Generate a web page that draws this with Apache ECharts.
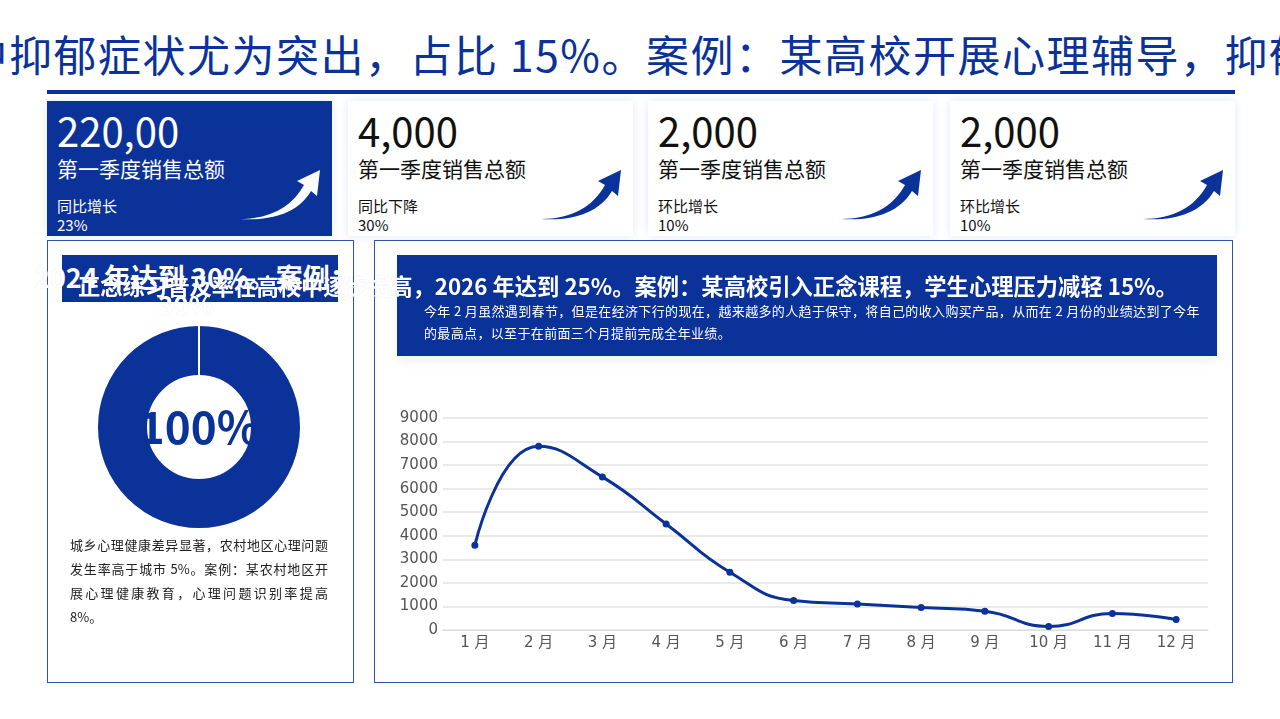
<!DOCTYPE html>
<html>
<head>
<meta charset="utf-8">
<script src="https://cdn.jsdelivr.net/npm/echarts@6/dist/echarts.min.js"></script>
<style>
	html,body{margin:0;padding:0;width:1280px;height:719px;overflow:hidden;background:#fff;font-family:"Noto Sans CJK SC","Noto Sans",sans-serif;}
	.abs{position:absolute;}
	.headline{left:-80px;top:26px;font-size:43px;line-height:54px;letter-spacing:1.5px;color:#0a3299;white-space:nowrap;}
	.bar{left:47px;top:90px;width:1188px;height:4px;background:#0a3299;}
	.card{top:101px;width:285px;height:135px;background:#fff;box-shadow:0 0 8px rgba(40,90,200,0.14);color:#111;}
	.card.curr{background:#0a3299;color:#fff;}
	.card .num{position:absolute;left:10px;top:5px;font-size:40px;line-height:48px;}
	.card .name{position:absolute;left:10px;top:52px;font-size:21px;line-height:30px;}
	.card .sub{position:absolute;left:10px;top:95px;font-size:15px;line-height:19px;}
	.card svg{position:absolute;left:193px;top:67px;}
	.panel{top:240px;height:441px;border:1.5px solid #2f52aa;background:#fff;}
	.box{background:#0a3299;}
	.wtxt{color:#fff;font-weight:bold;white-space:nowrap;text-shadow:0 0 1px rgba(0,0,0,0.15);}
	.para{left:70px;top:533px;width:258px;font-size:13px;line-height:24px;color:#222;}
	.para div{text-align:justify;text-align-last:justify;white-space:nowrap;}
	.para div.last{text-align-last:left;}
	.note{left:424px;top:300px;font-size:13px;line-height:22px;color:#fff;white-space:nowrap;letter-spacing:0.35px;}
</style>
</head>
<body>
<div class="abs headline">其中抑郁症状尤为突出，占比 15%。案例：某高校开展心理辅导，抑郁</div>
<div class="abs bar"></div>
<div id="cards"></div>

<div class="abs panel" style="left:47px;width:305px;"></div>
<div class="abs panel" style="left:374px;width:857px;"></div>
<div class="abs box" style="left:62px;top:255px;width:276px;height:47px;"></div>
<div class="abs box" style="left:397px;top:255px;width:820px;height:101px;box-shadow:0 6px 10px rgba(0,0,0,0.06);"></div>

<div id="pieChart" class="abs" style="left:48px;top:305px;width:303px;height:240px;"></div>
<div id="lineChart" class="abs" style="left:376px;top:370px;width:854px;height:310px;"></div>

<div class="abs wtxt" style="left:34px;top:261px;font-size:27px;line-height:32px;">2024 年达到 30%。案例：</div>
<div class="abs wtxt" style="left:158px;top:288px;font-size:26px;line-height:32px;">30%</div>
<div class="abs wtxt" style="left:78px;top:270px;font-size:22.3px;line-height:30px;">正念练习普及率在高校中逐步提高，2026 年达到 25%。案例：某高校引入正念课程，学生心理压力减轻 15%。</div>
<div class="abs note">今年 2 月虽然遇到春节，但是在经济下行的现在，越来越多的人趋于保守，将自己的收入购买产品，从而在 2 月份的业绩达到了今年<br>的最高点，以至于在前面三个月提前完成全年业绩。</div>
<div class="abs para" id="para"></div>

<script>
// 卡片数据
var cardNums=["220,00","4,000","2,000","2,000"];
var cardNames=["第一季度销售总额","第一季度销售总额","第一季度销售总额","第一季度销售总额"];
var cardTypes=["同比增长","同比下降","环比增长","环比增长"];
var cardRates=["23%","30%","10%","10%"];
var cardLefts=[47,348,648,950];
// 左侧说明文字(按行)
var paraLines=["城乡心理健康差异显著，农村地区心理问题","发生率高于城市 5%。案例：某农村地区开","展心理健康教育，心理问题识别率提高","8%。"];
// 环形图数据
var ringData=[100,0];
var ringLabel="100%";
// 折线图数据
var months=["1 月","2 月","3 月","4 月","5 月","6 月","7 月","8 月","9 月","10 月","11 月","12 月"];
var sales=[3600,7800,6500,4500,2450,1250,1100,950,800,150,700,450];

$=function(id){return document.getElementById(id);};
var html="";
for(var i=0;i<cardNums.length;i++){
	var color=i==0?"#fff":"#0a3299";
	html+='<div class="abs card'+(i==0?' curr':'')+'" style="left:'+cardLefts[i]+'px;">'
		+'<div class="num">'+cardNums[i]+'</div>'
		+'<div class="name">'+cardNames[i]+'</div>'
		+'<div class="sub">'+cardTypes[i]+'<br>'+cardRates[i]+'</div>'
		+'<svg width="82" height="54" viewBox="0 0 82 54"><path fill="'+color+'" d="M0,51 C30,51 52,39 64,17 L57,13 L80,2 L77,28 L71,23 C58,45 32,53 0,51 Z"/></svg>'
		+'</div>';
}
$("cards").innerHTML=html;
var ph="";
for(var j=0;j<paraLines.length;j++){
	ph+='<div'+(j==paraLines.length-1?' class="last"':'')+'>'+paraLines[j]+'</div>';
}
$("para").innerHTML=ph;

//环形图
var pie=echarts.init($("pieChart"));
pie.setOption({
	series:[{
		type:"pie",
		center:[151,122],
		radius:[51,102],
		startAngle:90,
		silent:true,
		itemStyle:{color:"#0a3299",borderColor:"#fff",borderWidth:2},
		label:{show:true,position:"center",formatter:ringLabel,color:"#0a3299",fontSize:44,fontWeight:"bold",fontFamily:"Noto Sans CJK SC"},
		labelLine:{show:false},
		data:ringData.map(function(v,i){
			return {value:v,label:{show:i==0}};
		})
	}]
});

//折线图
var line=echarts.init($("lineChart"));
line.setOption({
	grid:{left:67,right:22,top:48,bottom:50},
	xAxis:{
		type:"category",
		data:months,
		axisLine:{lineStyle:{color:"#ddd"}},
		axisTick:{show:false},
		axisLabel:{color:"#555",fontSize:15,margin:6,fontFamily:"DejaVu Sans, Noto Sans CJK SC"}
	},
	yAxis:{
		type:"value",
		min:0,max:9000,interval:1000,
		axisLine:{show:false},
		axisTick:{show:false},
		splitLine:{lineStyle:{color:"#e3e3e3",width:1.5}},
		axisLabel:{color:"#555",fontSize:15,margin:5,fontFamily:"DejaVu Sans",formatter:function(v){return String(v);}}
	},
	series:[{
		type:"line",
		smooth:true,
		data:sales,
		symbol:"circle",
		symbolSize:7,
		lineStyle:{color:"#0a3299",width:3},
		itemStyle:{color:"#0a3299"}
	}]
});
</script>
</body>
</html>
